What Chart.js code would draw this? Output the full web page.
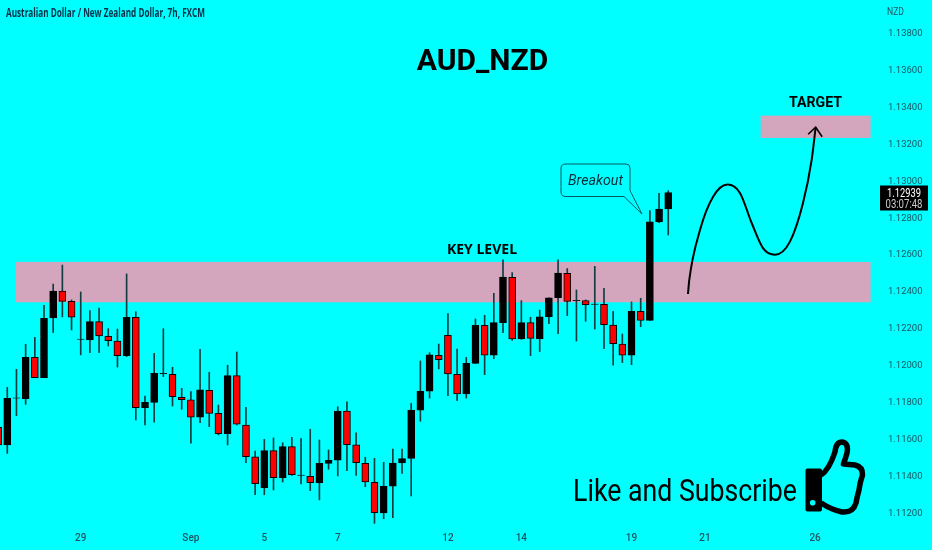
<!DOCTYPE html>
<html>
<head>
<meta charset="utf-8">
<style>
  html, body { margin: 0; padding: 0; background: #00ffff; }
  #wrap { width: 932px; height: 550px; }
</style>
<script src="https://cdn.jsdelivr.net/npm/chart.js@4"></script>
</head>
<body>
<div id="wrap"><canvas id="chart"></canvas></div>
<script>
// candles, oldest first
const opens = [1.11666,1.11571,1.11824,1.11822,1.12046,1.11936,1.12259,1.12405,1.12349,1.12143,1.12140,1.12239,1.12160,1.12134,1.12055,1.12263,1.11773,1.11802,1.11957,1.11954,1.11829,1.11815,1.11722,1.11867,1.11742,1.11632,1.11947,1.11679,1.11506,1.11339,1.11540,1.11394,1.11562,1.11406,1.11401,1.11366,1.11471,1.11489,1.11755,1.11571,1.11471,1.11368,1.11202,1.11348,1.11473,1.11498,1.11760,1.11862,1.12057,1.12165,1.11954,1.11847,1.12013,1.12219,1.12057,1.12234,1.12480,1.12145,1.12234,1.12147,1.12266,1.12369,1.12501,1.12353,1.12353,1.12333,1.12333,1.12221,1.12118,1.12057,1.12295,1.12246,1.12780,1.12850];
const highs = [1.11680,1.11883,1.11981,1.12116,1.12154,1.12328,1.12443,1.12546,1.12357,1.12400,1.12299,1.12313,1.12201,1.12199,1.12498,1.12293,1.11836,1.12068,1.12201,1.11992,1.11878,1.11860,1.12089,1.11965,1.11787,1.12003,1.12075,1.11775,1.11538,1.11601,1.11609,1.11583,1.11612,1.11605,1.11656,1.11598,1.11544,1.11778,1.11804,1.11636,1.11504,1.11498,1.11477,1.11549,1.11549,1.11797,1.12026,1.12071,1.12118,1.12283,1.12091,1.12046,1.12254,1.12274,1.12393,1.12574,1.12505,1.12353,1.12263,1.12302,1.12369,1.12574,1.12527,1.12411,1.12357,1.12539,1.12420,1.12295,1.12172,1.12346,1.12366,1.12841,1.12935,1.12949];
const lows = [1.11550,1.11525,1.11730,1.11791,1.11936,1.11936,1.12180,1.12265,1.12194,1.12059,1.12071,1.12071,1.12107,1.11993,1.12050,1.11706,1.11679,1.11695,1.11941,1.11782,1.11764,1.11581,1.11692,1.11670,1.11625,1.11571,1.11679,1.11475,1.11301,1.11301,1.11327,1.11370,1.11406,1.11359,1.11323,1.11273,1.11439,1.11403,1.11432,1.11406,1.11345,1.11146,1.11171,1.11177,1.11417,1.11294,1.11699,1.11825,1.11983,1.11838,1.11811,1.11825,1.12013,1.11952,1.12039,1.12180,1.12138,1.12143,1.12055,1.12077,1.12228,1.12174,1.12272,1.12134,1.12241,1.12199,1.12093,1.12003,1.12017,1.12006,1.12212,1.12246,1.12776,1.12709];
const closes = [1.11571,1.11824,1.11826,1.12046,1.11936,1.12257,1.12405,1.12349,1.12263,1.12145,1.12239,1.12162,1.12136,1.12055,1.12263,1.11773,1.11802,1.11959,1.11959,1.11833,1.11816,1.11722,1.11869,1.11742,1.11632,1.11947,1.11683,1.11507,1.11361,1.11540,1.11394,1.11562,1.11410,1.11408,1.11366,1.11471,1.11488,1.11755,1.11572,1.11475,1.11370,1.11204,1.11347,1.11473,1.11497,1.11760,1.11862,1.12059,1.12033,1.11956,1.11847,1.12013,1.12219,1.12057,1.12234,1.12481,1.12145,1.12234,1.12149,1.12266,1.12369,1.12503,1.12349,1.12355,1.12331,1.12335,1.12223,1.12120,1.12057,1.12295,1.12246,1.12780,1.12850,1.12939];

// axis ticks
const priceTicks = [1.112,1.114,1.116,1.118,1.12,1.122,1.124,1.126,1.128,1.13,1.132,1.134,1.136,1.138];
const dateTickPos = [9,21,29,37,49,57,69,77,89];
const dateTickText = ['29','Sep','5','7','12','14','19','21','26'];

// drawn zones [x from, x to, price low, price high]
const keyZone = [1.95, 95.05, 1.12344, 1.12563];
const targetZone = [83.07, 95.05, 1.13235, 1.13356];

// projected path
const pathX = [75.15,75.29,76.46,77.87,79.47,80.81,82.09,83.32,84.63,86.26,87.68,88.62,89.06];
const pathY = [1.12389,1.12465,1.12736,1.12915,1.12982,1.12937,1.12774,1.12638,1.12602,1.12673,1.12882,1.13115,1.13293];

const lastPrice = '1.12939';
const countdown = '03:07:48';

const xs = opens.map((_, i) => i);
const bodyColors = opens.map((o, i) => closes[i] < o ? '#ff0000' : '#000000');

const noPadding = s => {
    s.paddingTop = 0;
    s.paddingBottom = 0;
    s.paddingLeft = 0;
    s.paddingRight = 0;
};

const overlay = {
    id: 'overlay',
    beforeDatasetsDraw(chart) {
        const { ctx, scales: { x, y } } = chart;
        ctx.save();
        ctx.fillStyle = 'rgb(212,166,190)';
        [keyZone, targetZone].forEach(z => {
            const px = x.getPixelForValue(z[0]);
            const py = y.getPixelForValue(z[3]);
            ctx.fillRect(px, py, x.getPixelForValue(z[1]) - px, y.getPixelForValue(z[2]) - py);
        });
        ctx.restore();
    },
    afterDraw(chart) {
        const { ctx, scales: { x, y } } = chart;
        ctx.save();
        ctx.textBaseline = 'alphabetic';

        // header + labels
        ctx.fillStyle = '#08304a';
        ctx.font = '700 11.5px "Open Sans"';
        ctx.textAlign = 'left';
        ctx.fillText('Australian Dollar / New Zealand Dollar, 7h, FXCM', 6, 17, 199);

        ctx.fillStyle = '#1c5560';
        ctx.font = '10.5px Roboto';
        ctx.fillText('NZD', 887, 15, 17);

        ctx.fillStyle = '#000';
        ctx.textAlign = 'center';
        ctx.font = '700 30px Roboto';
        ctx.fillText('AUD_NZD', 482.5, 70);
        ctx.font = '700 14px "Open Sans"';
        ctx.fillText('KEY LEVEL', 482, 254);
        ctx.font = '700 15px Roboto';
        ctx.fillText('TARGET', 815.5, 107, 53);

        ctx.textAlign = 'left';
        ctx.font = '31px Roboto';
        ctx.fillText('Like and Subscribe', 573, 501, 224);

        // arrow head on the path
        const tipX = x.getPixelForValue(pathX[pathX.length - 1]);
        const tipY = y.getPixelForValue(pathY[pathY.length - 1]);
        ctx.strokeStyle = '#000';
        ctx.lineWidth = 1.6;
        ctx.beginPath();
        ctx.moveTo(tipX - 7.5, tipY + 7);
        ctx.lineTo(tipX, tipY);
        ctx.lineTo(tipX + 6.5, tipY + 9.5);
        ctx.stroke();

        // breakout callout
        ctx.strokeStyle = '#075a60';
        ctx.lineWidth = 1;
        ctx.beginPath();
        ctx.moveTo(566, 164);
        ctx.lineTo(626, 164);
        ctx.quadraticCurveTo(630, 164, 630, 168);
        ctx.lineTo(630, 190.5);
        ctx.lineTo(642, 214);
        ctx.lineTo(624, 196.5);
        ctx.lineTo(566, 196.5);
        ctx.quadraticCurveTo(561, 196.5, 561, 192);
        ctx.lineTo(561, 168);
        ctx.quadraticCurveTo(561, 164, 566, 164);
        ctx.stroke();
        ctx.fillStyle = '#06303a';
        ctx.font = 'italic 15px Roboto';
        ctx.textAlign = 'center';
        ctx.fillText('Breakout', 595.5, 185, 55);

        // last price tag
        ctx.fillStyle = '#000';
        ctx.fillRect(880, 185.5, 48, 25);
        ctx.font = '12.5px Roboto';
        ctx.fillStyle = '#fff';
        ctx.fillText(lastPrice, 904, 196.5, 34);
        ctx.fillStyle = '#c8c8c8';
        ctx.fillText(countdown, 904, 208, 37);

        // thumb icon
        ctx.fillStyle = '#000';
        ctx.beginPath();
        ctx.roundRect(805.5, 468.5, 16.5, 43, 2);
        ctx.fill();
        ctx.fillStyle = '#00ffff';
        ctx.beginPath();
        ctx.arc(812.7, 502.7, 2.8, 0, Math.PI * 2);
        ctx.fill();
        ctx.strokeStyle = '#000';
        ctx.lineWidth = 5.5;
        ctx.lineJoin = 'round';
        ctx.beginPath();
        ctx.moveTo(821, 475);
        ctx.quadraticCurveTo(829, 470, 835, 452);
        ctx.quadraticCurveTo(836, 442, 842, 442);
        ctx.quadraticCurveTo(849, 443, 847, 453);
        ctx.quadraticCurveTo(845, 460, 843.5, 464);
        ctx.lineTo(855, 465);
        ctx.quadraticCurveTo(863, 467, 862.5, 475);
        ctx.quadraticCurveTo(860, 482, 859, 490);
        ctx.quadraticCurveTo(857, 497, 856, 503);
        ctx.quadraticCurveTo(853, 513, 842, 512);
        ctx.quadraticCurveTo(832, 510, 821, 503);
        ctx.stroke();

        ctx.restore();
    }
};

new Chart(document.getElementById('chart'), {
    data: {
        datasets: [
            {
                type: 'line',
                data: pathX.map((v, i) => ({ x: v, y: pathY[i] })),
                borderColor: '#000',
                borderWidth: 2,
                pointRadius: 0,
                cubicInterpolationMode: 'monotone',
                order: 0
            },
            {
                type: 'bar',
                data: xs.map(i => ({ x: i, y: [opens[i], closes[i]] })),
                backgroundColor: bodyColors,
                borderColor: '#000',
                borderWidth: 1,
                borderSkipped: false,
                barThickness: 7,
                grouped: false,
                order: 1
            },
            {
                type: 'bar',
                data: xs.map(i => ({ x: i, y: [lows[i], highs[i]] })),
                backgroundColor: '#123c40',
                barThickness: 1,
                grouped: false,
                order: 2
            }
        ]
    },
    options: {
        responsive: true,
        maintainAspectRatio: false,
        animation: false,
        layout: { padding: 0 },
        plugins: { legend: { display: false }, tooltip: { enabled: false } },
        scales: {
            x: {
                type: 'linear',
                min: 0.207,
                max: 95.85,
                offset: false,
                grid: { display: false, drawTicks: false },
                border: { display: false },
                afterFit: s => { s.height = 25; noPadding(s); },
                afterBuildTicks: s => { s.ticks = dateTickPos.map(v => ({ value: v })); },
                ticks: {
                    autoSkip: false,
                    maxRotation: 0,
                    padding: 7,
                    color: '#1c5560',
                    font: { family: 'Roboto', size: 10, weight: '500' },
                    callback: v => dateTickText[dateTickPos.indexOf(v)]
                }
            },
            y: {
                position: 'right',
                min: 1.11137,
                max: 1.139827,
                grid: { display: false, drawTicks: false },
                border: { display: false },
                afterFit: s => { s.width = 54; noPadding(s); },
                afterBuildTicks: s => { s.ticks = priceTicks.map(v => ({ value: v })); },
                ticks: {
                    padding: 10,
                    color: '#1c5560',
                    font: { family: 'Roboto', size: 9.5 },
                    callback: v => v.toFixed(5)
                }
            }
        }
    },
    plugins: [overlay]
});
</script>
</body>
</html>
